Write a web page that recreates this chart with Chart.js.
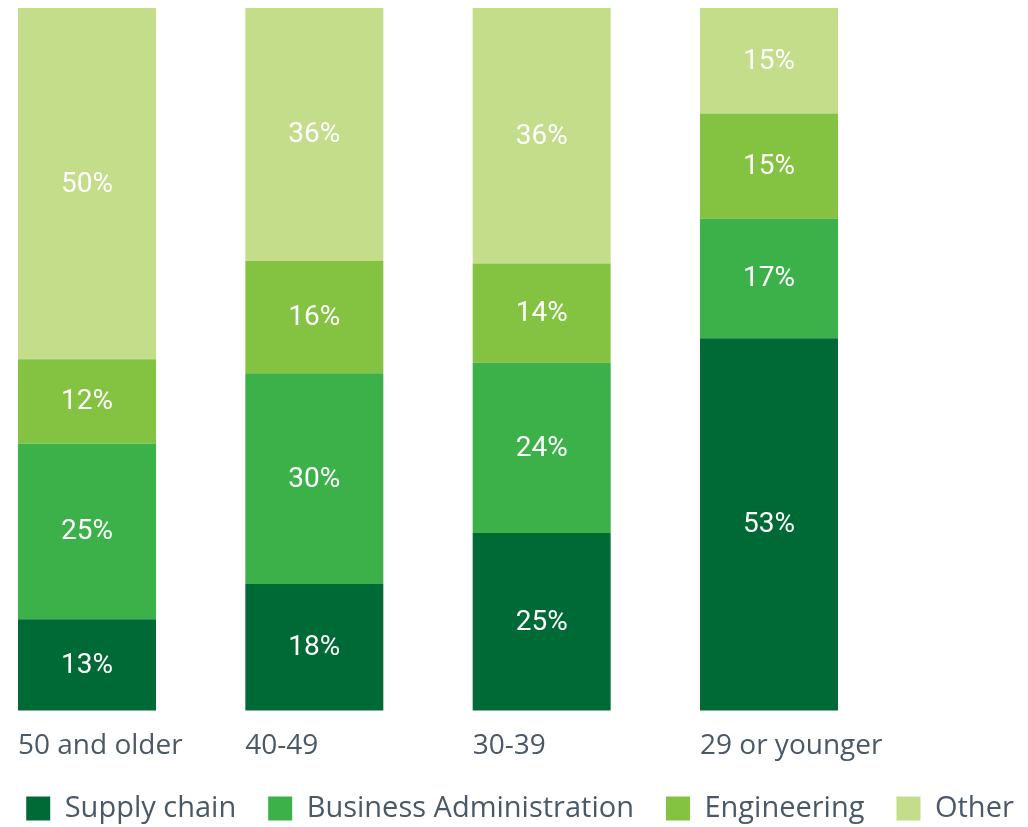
<!DOCTYPE html>
<html>
<head>
<meta charset="utf-8">
<script src="https://cdn.jsdelivr.net/npm/chart.js@4.4.1/dist/chart.umd.min.js"></script>
<style>
    html, body { margin: 0; padding: 0; background: #ffffff; overflow: hidden; }
    /* canvas is a bit wider than the page so the legend stays on one line */
    #chart-wrap { position: relative; width: 1080px; height: 833px; margin-left: -20px; }
</style>
</head>
<body>
<div id="chart-wrap">
    <canvas id="degreeChart"></canvas>
</div>
<script>
// Age groups and the share of each degree background (%)
const ageGroups = ['50 and older', '40-49', '30-39', '29 or younger'];
const supplyChain = [13, 18, 25, 53];
const businessAdmin = [25, 30, 24, 17];
const engineering = [12, 16, 14, 15];
const other = [50, 36, 36, 15];

const seriesNames = ['Supply chain', 'Business Administration', 'Engineering', 'Other'];
const seriesColors = ['#006a37', '#3cb14a', '#83c341', '#c3dd8b'];

const textColor = '#4a5867';

// Each column is scaled to fill 100% (rounded figures do not always add up)
const columnTotals = ageGroups.map((_, i) =>
    supplyChain[i] + businessAdmin[i] + engineering[i] + other[i]
);

function buildDataset(name, values, color) {
    return {
        label: name,
        data: values.map((v, i) => v / columnTotals[i] * 100),
        rawValues: values,
        backgroundColor: color,
        borderWidth: 0,
        barPercentage: 0.607,
        categoryPercentage: 1,
        clip: false
    };
}

// Writes the percentage in the middle of every segment
const segmentLabels = {
    id: 'segmentLabels',
    afterDatasetsDraw(chart) {
        const ctx = chart.ctx;
        ctx.save();
        ctx.fillStyle = '#ffffff';
        ctx.font = '28px Roboto';
        ctx.textAlign = 'center';
        ctx.textBaseline = 'middle';
        chart.data.datasets.forEach((ds, d) => {
            chart.getDatasetMeta(d).data.forEach((bar, i) => {
                const midY = (bar.y + bar.base) / 2;
                ctx.fillText(ds.rawValues[i] + '%', bar.x, midY + 1);
            });
        });
        ctx.restore();
    }
};

const chartData = {
    labels: ageGroups,
    datasets: [
        buildDataset(seriesNames[0], supplyChain, seriesColors[0]),
        buildDataset(seriesNames[1], businessAdmin, seriesColors[1]),
        buildDataset(seriesNames[2], engineering, seriesColors[2]),
        buildDataset(seriesNames[3], other, seriesColors[3])
    ]
};

const chartConfig = {
    type: 'bar',
    data: chartData,
    options: {
        responsive: true,
        maintainAspectRatio: false,
        animation: false,
        layout: {
            padding: { top: 8, left: 0, right: 0, bottom: 0 }
        },
        scales: {
            x: {
                stacked: true,
                offset: false,
                grid: { display: false, drawTicks: false },
                border: { display: false },
                ticks: {
                    color: textColor,
                    font: { family: 'Open Sans', size: 28 },
                    align: 'start',
                    labelOffset: -69,
                    padding: 19,
                    maxRotation: 0,
                    autoSkip: false
                },
                afterFit(scale) { scale.height = 51.5; }
            },
            y: {
                stacked: true,
                min: 0,
                max: 100,
                grid: { display: false, drawTicks: false },
                border: { display: false },
                ticks: { display: false },
                afterFit(scale) { scale.width = 107; }
            },
            // empty axis that only holds the space right of the last bar
            yRight: {
                type: 'linear',
                position: 'right',
                grid: { display: false, drawTicks: false },
                border: { display: false },
                ticks: { display: false },
                afterFit(scale) { scale.width = 291; }
            }
        },
        plugins: {
            legend: {
                position: 'bottom',
                labels: {
                    boxWidth: 24,
                    boxHeight: 24,
                    padding: 32,
                    color: textColor,
                    font: { family: 'Open Sans', size: 29 }
                }
            },
            tooltip: { enabled: false }
        }
    },
    plugins: [segmentLabels]
};

const degreeChart = new Chart(
    document.getElementById('degreeChart'),
    chartConfig
);
</script>
</body>
</html>
